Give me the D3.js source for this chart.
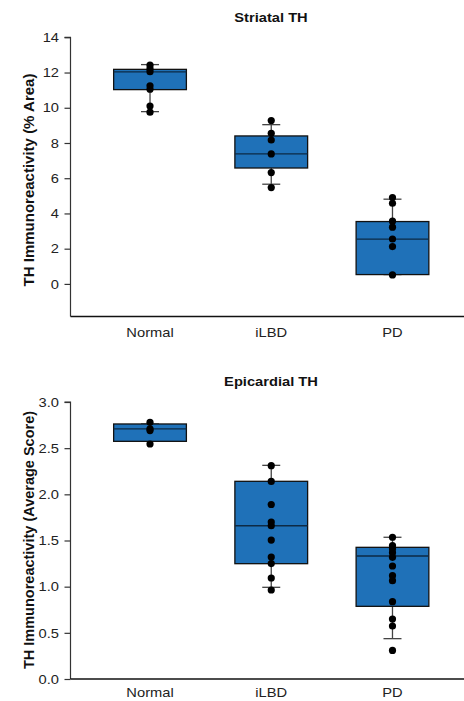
<!DOCTYPE html>
<html>
<head>
<meta charset="utf-8">
<script src="https://cdn.jsdelivr.net/npm/d3@7"></script>
<style>
  html, body { margin: 0; padding: 0; background: #fff; }
  svg { display: block; font-family: "Liberation Sans", Arial, Helvetica, sans-serif; }
</style>
</head>
<body>
<script>
// ---------- DATA ----------
const categories = ["Normal", "iLBD", "PD"];

// Striatal TH (% Area)
const striatalTicks = [0, 2, 4, 6, 8, 10, 12, 14];
const striatalQ1 = [11.03, 6.58, 0.53];
const striatalMedian = [12.04, 7.38, 2.54];
const striatalQ3 = [12.18, 8.40, 3.54];
const striatalWhiskerLow = [9.78, 5.66, 0.53];
const striatalWhiskerHigh = [12.45, 9.04, 4.81];
const striatalNormal = [12.42, 12.22, 12.05, 11.25, 11.05, 10.1, 9.75];
const striatalILBD = [9.27, 8.55, 8.17, 7.38, 6.32, 5.47];
const striatalPD = [4.9, 4.58, 3.56, 3.22, 2.55, 2.12, 0.51];

// Epicardial TH (Average Score)
const epicardialTicks = [0.0, 0.5, 1.0, 1.5, 2.0, 2.5, 3.0];
const epicardialQ1 = [2.574, 1.249, 0.787];
const epicardialMedian = [2.708, 1.66, 1.332];
const epicardialQ3 = [2.762, 2.141, 1.426];
const epicardialWhiskerLow = [2.574, 0.993, 0.437];
const epicardialWhiskerHigh = [2.762, 2.314, 1.535];
const epicardialNormal = [2.78, 2.71, 2.69, 2.545];
const epicardialILBD = [2.31, 2.14, 1.89, 1.70, 1.66, 1.505, 1.32, 1.25, 1.094, 0.964];
const epicardialPD = [1.535, 1.444, 1.41, 1.368, 1.318, 1.224, 1.119, 1.065, 0.837, 0.65, 0.574, 0.31];

// ---------- DRAW ----------
const W = 464, H = 701;
const svg = d3.select("body").append("svg").attr("width", W).attr("height", H);

const boxFill = "#1f71b8";
const SX = 1.13; // horizontal stretch of the original figure's lettering

function hText(g, x, y, txt, size, bold) {
  return g.append("text")
    .attr("transform", `translate(${x},${y}) scale(${SX},1)`)
    .attr("text-anchor", "middle").attr("font-size", size)
    .attr("font-weight", bold ? "bold" : "normal")
    .attr("fill", bold ? "#111" : "#222").text(txt);
}

function panel(opts) {
  const g = svg.append("g");
  const y = d3.scaleLinear().domain(opts.domain).range(opts.range);
  const x = d3.scaleBand().domain(categories).range([89.4, 453.1]).paddingInner(0.4).paddingOuter(0.2);

  // y axis
  const yAxis = d3.axisLeft(y).tickValues(opts.ticks).tickSize(6).tickPadding(5)
    .tickFormat(opts.fmt);
  const ya = g.append("g").attr("transform", `translate(${opts.axisX},0)`).call(yAxis);
  ya.select(".domain").attr("d", `M-6,${y(opts.ticks[opts.ticks.length-1])}H0V${opts.range[0]}`)
    .attr("stroke", "#333").attr("stroke-width", 1.2);
  ya.selectAll(".tick line").attr("stroke", "#333").attr("stroke-width", 1.2);
  ya.selectAll(".tick text").attr("font-size", 13).attr("fill", "#222")
    .attr("font-family", "'Liberation Sans', Arial, sans-serif")
    .attr("x", -11.5 / SX)
    .attr("transform", `scale(${SX},1)`);

  // x axis line
  g.append("line").attr("x1", opts.axisX).attr("x2", W).attr("y1", opts.range[0]).attr("y2", opts.range[0])
    .attr("stroke", "#111").attr("stroke-width", 1.4);

  // x labels
  categories.forEach(c => hText(g, x(c) + x.bandwidth()/2, opts.xLabelY, c, 13, false));

  // title
  hText(g, 271, opts.titleY, opts.title, 13, true);

  // y label
  g.append("text").attr("transform", `translate(${opts.yLabelX},${opts.yLabelMid}) rotate(-90)`)
    .attr("text-anchor", "middle").attr("font-size", opts.yLabelSize).attr("font-weight", "bold").attr("fill", "#111")
    .text(opts.ylabel);

  const cw = 18;
  categories.forEach((c, i) => {
    const cx = x(c) + x.bandwidth()/2;
    // whiskers
    g.append("line").attr("x1", cx).attr("x2", cx).attr("y1", y(opts.wh[i])).attr("y2", y(opts.q3[i]))
      .attr("stroke", "#444").attr("stroke-width", 1.3);
    g.append("line").attr("x1", cx).attr("x2", cx).attr("y1", y(opts.q1[i])).attr("y2", y(opts.wl[i]))
      .attr("stroke", "#444").attr("stroke-width", 1.3);
    g.append("line").attr("x1", cx - cw/2).attr("x2", cx + cw/2).attr("y1", y(opts.wh[i])).attr("y2", y(opts.wh[i]))
      .attr("stroke", "#444").attr("stroke-width", 1.3);
    g.append("line").attr("x1", cx - cw/2).attr("x2", cx + cw/2).attr("y1", y(opts.wl[i])).attr("y2", y(opts.wl[i]))
      .attr("stroke", "#444").attr("stroke-width", 1.3);
    // box
    g.append("rect").attr("x", x(c)).attr("width", x.bandwidth())
      .attr("y", y(opts.q3[i])).attr("height", y(opts.q1[i]) - y(opts.q3[i]))
      .attr("fill", boxFill).attr("stroke", "#111").attr("stroke-width", 1.3);
    g.append("line").attr("x1", x(c)).attr("x2", x(c) + x.bandwidth())
      .attr("y1", y(opts.med[i])).attr("y2", y(opts.med[i]))
      .attr("stroke", "#0d2a45").attr("stroke-width", 1.3);
    // dots
    g.selectAll(null).data(opts.pts[i]).join("circle")
      .attr("cx", cx).attr("cy", d => y(d)).attr("r", 3.6).attr("fill", "#000");
  });
}

panel({
  title: "Striatal TH", titleY: 22,
  ylabel: "TH Immunoreactivity (% Area)", yLabelX: 34, yLabelMid: 180, yLabelSize: 15,
  domain: [-1.85, 14], range: [316.5, 37.3], axisX: 70.5,
  ticks: striatalTicks, fmt: d3.format("d"),
  q1: striatalQ1, med: striatalMedian, q3: striatalQ3, wl: striatalWhiskerLow, wh: striatalWhiskerHigh,
  pts: [striatalNormal, striatalILBD, striatalPD],
  xLabelY: 337
});

panel({
  title: "Epicardial TH", titleY: 386,
  ylabel: "TH Immunoreactivity (Average Score)", yLabelX: 34, yLabelMid: 540, yLabelSize: 14.5,
  domain: [0, 3], range: [679, 402], axisX: 70.5,
  ticks: epicardialTicks, fmt: d3.format(".1f"),
  q1: epicardialQ1, med: epicardialMedian, q3: epicardialQ3, wl: epicardialWhiskerLow, wh: epicardialWhiskerHigh,
  pts: [epicardialNormal, epicardialILBD, epicardialPD],
  xLabelY: 697
});
</script>
</body>
</html>
